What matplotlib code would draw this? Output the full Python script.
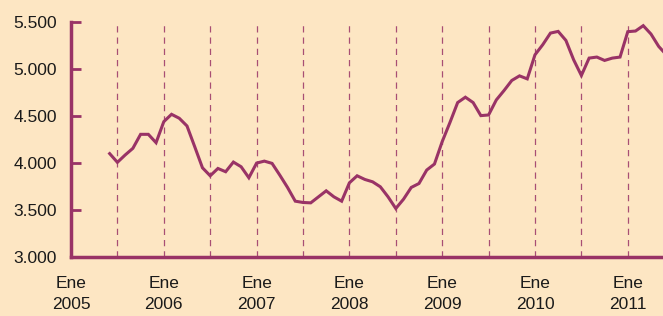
import matplotlib.pyplot as plt
from matplotlib.ticker import FuncFormatter

# monthly series, first value = June 2005 (month index 5 from Jan 2005)
start_month = 5
values = [
    4100, 4007, 4085, 4156, 4305, 4305, 4216,              # Jun-Dec 2005
    4440, 4518, 4476, 4394, 4173, 3949, 3864, 3942, 3907, 4010, 3960, 3843,  # 2006
    3999, 4020, 3996, 3871, 3740, 3594, 3580, 3576, 3640, 3704, 3640, 3594,  # 2007
    3789, 3864, 3825, 3800, 3747, 3640, 3516, 3615, 3740, 3782, 3925, 3989,  # 2008
    4227, 4430, 4643, 4700, 4643, 4504, 4511, 4671, 4771, 4878, 4927, 4895,  # 2009
    5151, 5258, 5382, 5400, 5304, 5098, 4931, 5116, 5127, 5091, 5116, 5127,  # 2010
    5397, 5404, 5461, 5372, 5240, 5150,                     # Jan-Jun 2011
]
years = ["2005", "2006", "2007", "2008", "2009", "2010", "2011"]
yticks = [3000, 3500, 4000, 4500, 5000, 5500]

bg = "#fde6c3"
purple = "#993366"

fig = plt.figure(figsize=(6.63, 3.16), dpi=100, facecolor=bg)
ax = fig.add_axes([71 / 663, 1 - 257 / 316, 1 - 71 / 663, (257 - 22) / 316])
ax.set_facecolor(bg)

months = list(range(start_month, start_month + len(values)))
ax.plot(months, values, color=purple, lw=2.2, solid_joinstyle="miter", zorder=3)

# dashed half-year guides
for m in range(6, 78, 6):
    ax.axvline(m, color=purple, lw=0.9, ls=(0, (5, 4)), alpha=0.85, zorder=1)

ax.set_xlim(0, (663 - 71) / 7.733)
ax.set_ylim(3000, 5500)

ax.set_yticks(yticks)
ax.yaxis.set_major_formatter(FuncFormatter(lambda v, p: f"{v:,.0f}".replace(",", ".")))
ax.set_xticks([12 * i for i in range(len(years))])
ax.set_xticklabels([f"Ene\n{y}" for y in years], linespacing=1.5)

ax.tick_params(axis="y", direction="in", length=7, width=2, color=purple,
               labelsize=12.5, pad=10, labelfontfamily="Liberation Sans",
               labelcolor="#1a1a1a")
ax.tick_params(axis="x", length=0, labelsize=12.5, pad=14,
               labelfontfamily="Liberation Sans", labelcolor="#1a1a1a")

for s in ["top", "right"]:
    ax.spines[s].set_visible(False)
for s in ["left", "bottom"]:
    ax.spines[s].set_color(purple)
    ax.spines[s].set_linewidth(2.5)

fig.savefig("out.png", dpi=100, facecolor=bg)
